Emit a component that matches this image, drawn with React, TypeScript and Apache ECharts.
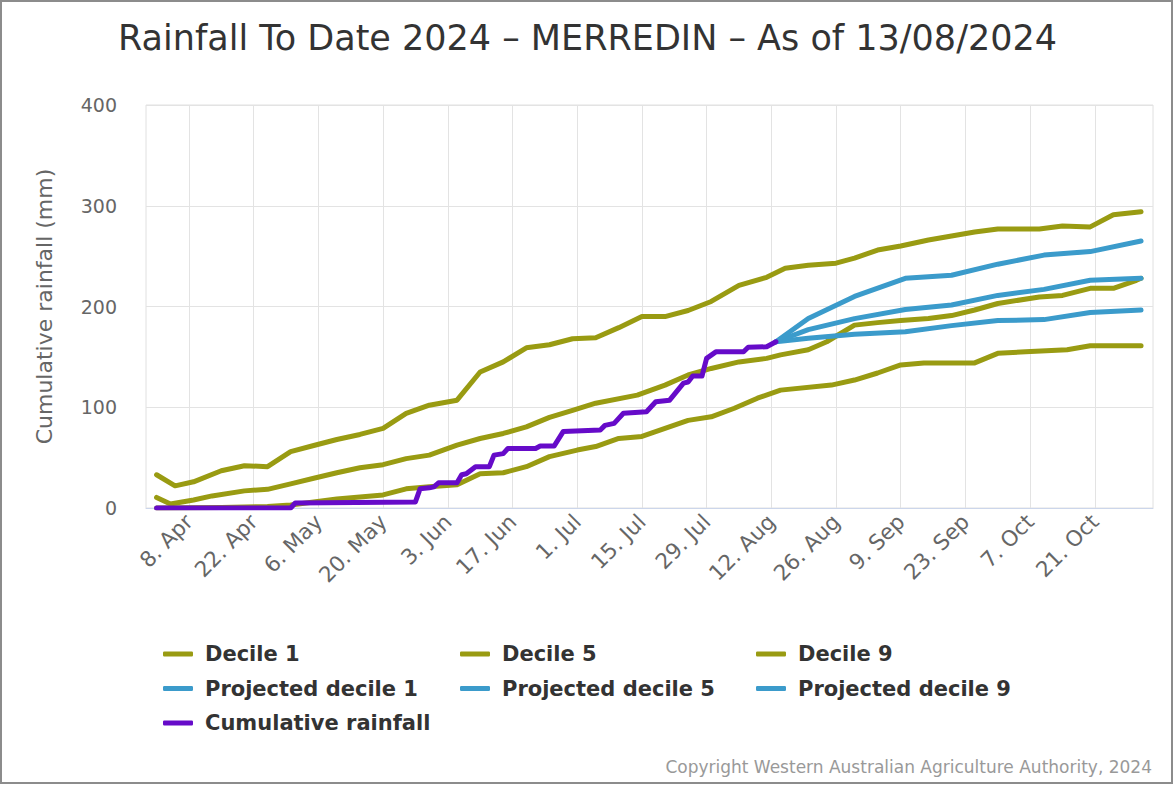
import React, { useEffect, useRef } from "react";
import * as echarts from "echarts";

const MONTHS = ["Jan", "Feb", "Mar", "Apr", "May", "Jun", "Jul", "Aug", "Sep", "Oct", "Nov", "Dec"];

const TICK_DATES = [
  "2024-04-08", "2024-04-22", "2024-05-06", "2024-05-20", "2024-06-03", "2024-06-17", "2024-07-01",
  "2024-07-15", "2024-07-29", "2024-08-12", "2024-08-26", "2024-09-09", "2024-09-23", "2024-10-07", "2024-10-21",
];

const DECILE_1: [string, number][] = [
  ["2024-04-01", 0], ["2024-04-15", 0.5], ["2024-04-25", 1.5], ["2024-04-30", 3], ["2024-05-05", 6],
  ["2024-05-10", 9], ["2024-05-15", 11], ["2024-05-20", 13], ["2024-05-25", 19], ["2024-05-30", 21],
  ["2024-06-05", 23], ["2024-06-10", 34], ["2024-06-15", 35], ["2024-06-20", 41], ["2024-06-25", 51],
  ["2024-07-01", 57.5], ["2024-07-05", 61], ["2024-07-10", 69], ["2024-07-15", 71], ["2024-07-20", 79],
  ["2024-07-25", 87], ["2024-07-30", 90.5], ["2024-08-04", 99], ["2024-08-09", 109], ["2024-08-14", 117],
  ["2024-08-25", 122], ["2024-08-30", 127], ["2024-09-04", 134], ["2024-09-09", 142], ["2024-09-14", 144],
  ["2024-09-25", 144], ["2024-09-30", 153.5], ["2024-10-06", 155], ["2024-10-15", 157], ["2024-10-20", 161],
  ["2024-10-31", 161],
];

const DECILE_5: [string, number][] = [
  ["2024-04-01", 10.5], ["2024-04-04", 4], ["2024-04-09", 8], ["2024-04-13", 12], ["2024-04-20", 17],
  ["2024-04-25", 18.5], ["2024-04-30", 24], ["2024-05-05", 29.5], ["2024-05-10", 35], ["2024-05-15", 40],
  ["2024-05-20", 43], ["2024-05-25", 49], ["2024-05-30", 52.5], ["2024-06-05", 62.5], ["2024-06-10", 69],
  ["2024-06-15", 74], ["2024-06-20", 80.5], ["2024-06-25", 90], ["2024-06-30", 97], ["2024-07-05", 104],
  ["2024-07-14", 112], ["2024-07-20", 122], ["2024-07-25", 132], ["2024-07-30", 138.5], ["2024-08-05", 145],
  ["2024-08-11", 148.5], ["2024-08-14", 152], ["2024-08-20", 157], ["2024-08-24", 165], ["2024-08-30", 181.5],
  ["2024-09-04", 184], ["2024-09-09", 186], ["2024-09-15", 188], ["2024-09-20", 191], ["2024-09-25", 196.5],
  ["2024-09-30", 203], ["2024-10-09", 209.5], ["2024-10-14", 211], ["2024-10-20", 218], ["2024-10-25", 218],
  ["2024-10-30", 226], ["2024-10-31", 228],
];

const DECILE_9: [string, number][] = [
  ["2024-04-01", 33], ["2024-04-05", 22], ["2024-04-09", 26], ["2024-04-15", 37], ["2024-04-20", 42],
  ["2024-04-25", 41], ["2024-04-30", 56], ["2024-05-05", 62], ["2024-05-10", 68], ["2024-05-15", 73],
  ["2024-05-20", 79], ["2024-05-25", 94], ["2024-05-30", 102], ["2024-06-05", 107], ["2024-06-10", 135],
  ["2024-06-15", 145], ["2024-06-20", 159], ["2024-06-25", 162], ["2024-06-30", 168], ["2024-07-05", 169],
  ["2024-07-10", 179], ["2024-07-15", 190], ["2024-07-20", 190], ["2024-07-25", 196], ["2024-07-30", 205],
  ["2024-08-05", 221], ["2024-08-11", 229], ["2024-08-15", 238], ["2024-08-20", 241], ["2024-08-26", 243],
  ["2024-08-30", 248], ["2024-09-04", 256], ["2024-09-09", 260], ["2024-09-15", 266], ["2024-09-20", 270],
  ["2024-09-25", 274], ["2024-09-30", 277], ["2024-10-09", 277], ["2024-10-14", 280], ["2024-10-20", 279],
  ["2024-10-25", 291], ["2024-10-31", 294],
];

const PROJ_1: [string, number][] = [
  ["2024-08-13", 165], ["2024-08-20", 168.5], ["2024-08-30", 172.5], ["2024-09-10", 175], ["2024-09-20", 181],
  ["2024-09-30", 186], ["2024-10-10", 187], ["2024-10-20", 194], ["2024-10-31", 196.5],
];

const PROJ_5: [string, number][] = [
  ["2024-08-13", 165], ["2024-08-20", 177], ["2024-08-30", 188], ["2024-09-10", 197], ["2024-09-20", 201.5],
  ["2024-09-30", 211], ["2024-10-10", 217], ["2024-10-20", 226], ["2024-10-31", 228],
];

const PROJ_9: [string, number][] = [
  ["2024-08-13", 165], ["2024-08-20", 188], ["2024-08-30", 210], ["2024-09-10", 228], ["2024-09-20", 231],
  ["2024-09-30", 242], ["2024-10-10", 251], ["2024-10-20", 254.5], ["2024-10-31", 265],
];

const CUMULATIVE: [string, number][] = [
  ["2024-04-01", 0], ["2024-04-30", 0], ["2024-05-01", 5], ["2024-05-27", 6], ["2024-05-28", 19],
  ["2024-05-30", 20], ["2024-05-31", 21], ["2024-06-01", 25], ["2024-06-05", 25], ["2024-06-06", 33],
  ["2024-06-07", 34], ["2024-06-09", 41], ["2024-06-12", 41], ["2024-06-13", 52.5], ["2024-06-15", 54],
  ["2024-06-16", 59], ["2024-06-22", 59], ["2024-06-23", 61.5], ["2024-06-26", 61.5], ["2024-06-28", 76],
  ["2024-07-06", 77.5], ["2024-07-07", 82], ["2024-07-09", 84], ["2024-07-11", 94], ["2024-07-16", 95.5],
  ["2024-07-18", 105.5], ["2024-07-21", 107], ["2024-07-24", 124], ["2024-07-25", 125], ["2024-07-26", 131],
  ["2024-07-28", 131], ["2024-07-29", 148.5], ["2024-07-31", 155], ["2024-08-06", 155], ["2024-08-07", 159.5],
  ["2024-08-11", 160], ["2024-08-13", 165],
];

const GREEN = "#999b12";
const BLUE = "#3b9bcb";
const PURPLE = "#660bc9";
const FONT = "DejaVu Sans";

function toTime(s: string): number {
  const [y, m, d] = s.split("-").map(Number);
  return new Date(y, m - 1, d).getTime();
}

function pts(arr: [string, number][]) {
  return arr.map(([d, v]) => [toTime(d), v]);
}

export default function App() {
  const ref = useRef<HTMLDivElement>(null);

  useEffect(() => {
    if (!ref.current) return;
    const chart = echarts.init(ref.current, undefined, { renderer: "svg" });
    const ticks = TICK_DATES.map(toTime);

    const mk = (name: string, data: [string, number][], color: string, z: number) => ({
      name,
      type: "line",
      data: pts(data),
      showSymbol: false,
      symbol: "none",
      color,
      z,
      lineStyle: { color, width: 5, cap: "round", join: "round" },
      itemStyle: { color },
    });

    const legendBase = {
      orient: "vertical",
      top: 642,
      padding: 0,
      itemWidth: 30,
      itemHeight: 5,
      itemGap: 10.5,
      icon: "roundRect",
      textStyle: {
        fontFamily: FONT,
        fontSize: 21,
        fontWeight: "bold",
        color: "#333333",
        lineHeight: 24,
        padding: [0, 0, 0, 7],
      },
      selectedMode: false,
    };

    chart.setOption({
      animation: false,
      backgroundColor: "#ffffff",
      title: {
        text: "Rainfall To Date 2024 – MERREDIN – As of 13/08/2024",
        left: "center",
        top: 15,
        textStyle: { fontFamily: FONT, fontSize: 35, fontWeight: "normal", color: "#333333" },
      },
      legend: [
        { ...legendBase, left: 163, data: ["Decile 1", "Projected decile 1", "Cumulative rainfall"] },
        { ...legendBase, left: 460, data: ["Decile 5", "Projected decile 5"] },
        { ...legendBase, left: 756, data: ["Decile 9", "Projected decile 9"] },
      ],
      grid: {
        left: 146,
        right: 22,
        top: 105,
        bottom: 277,
        show: true,
        borderColor: "#e0e0e0",
        borderWidth: 1,
      },
      xAxis: {
        type: "value",
        min: new Date(2024, 2, 29, 17).getTime(),
        max: new Date(2024, 10, 2, 14).getTime(),
        axisLine: { show: true, lineStyle: { color: "#ccd6eb", width: 1 } },
        axisTick: { show: false, customValues: ticks },
        splitLine: { show: true, lineStyle: { color: "#e3e3e3", width: 1 } },
        axisLabel: {
          customValues: ticks,
          rotate: 45,
          margin: 10,
          fontFamily: FONT,
          fontSize: 21.5,
          color: "#666666",
          hideOverlap: false,
          showMinLabel: true,
          showMaxLabel: true,
          formatter: (val: number) => {
            const d = new Date(val);
            return d.getDate() + ". " + MONTHS[d.getMonth()];
          },
        },
      },
      yAxis: {
        type: "value",
        min: 0,
        max: 400,
        interval: 100,
        name: "Cumulative rainfall (mm)",
        nameLocation: "middle",
        nameGap: 91,
        nameTextStyle: { fontFamily: FONT, fontSize: 22, color: "#666666" },
        axisLine: { show: false },
        axisTick: { show: false },
        splitLine: { show: true, lineStyle: { color: "#e3e3e3", width: 1 } },
        axisLabel: { margin: 29, fontFamily: FONT, fontSize: 19, color: "#666666" },
      },
      series: [
        mk("Decile 1", DECILE_1, GREEN, 2),
        mk("Decile 5", DECILE_5, GREEN, 2),
        mk("Decile 9", DECILE_9, GREEN, 2),
        mk("Projected decile 1", PROJ_1, BLUE, 3),
        mk("Projected decile 5", PROJ_5, BLUE, 3),
        mk("Projected decile 9", PROJ_9, BLUE, 3),
        mk("Cumulative rainfall", CUMULATIVE, PURPLE, 4),
      ],
      graphic: [
        {
          type: "rect",
          shape: { x: 1, y: 1, width: 1171, height: 782 },
          style: { fill: "none", stroke: "#8c8c8c", lineWidth: 2 },
          silent: true,
          z: 100,
        },
        {
          type: "text",
          x: 1152,
          y: 767,
          style: {
            text: "Copyright Western Australian Agriculture Authority, 2024",
            align: "right",
            verticalAlign: "middle",
            fontFamily: FONT,
            fontSize: 17,
            fill: "#999999",
          },
        },
      ],
    });

    return () => chart.dispose();
  }, []);

  return (
    <div
      ref={ref}
      style={{ position: "fixed", left: 0, top: 0, width: 1175, height: 785, background: "#fff" }}
    />
  );
}
